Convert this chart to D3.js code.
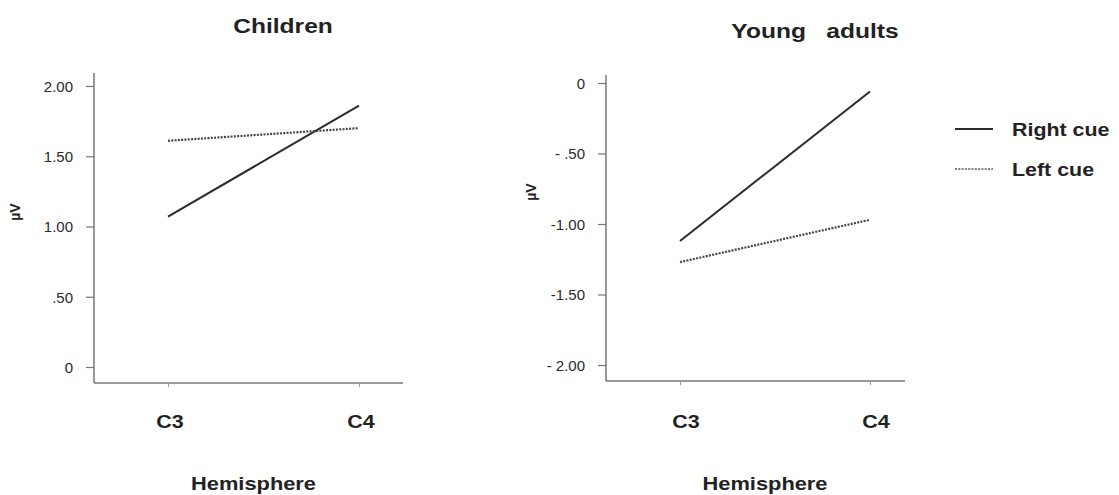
<!DOCTYPE html>
<html>
<head>
<meta charset="utf-8">
<script src="https://cdn.jsdelivr.net/npm/d3@7"></script>
<style>
  body { margin: 0; background: #fff; }
  svg { font-family: "Liberation Sans", Arial, sans-serif; }
</style>
</head>
<body>
<svg id="chart" width="1119" height="495"></svg>
<script>
const hemispheres = ["C3", "C4"];
const childrenRight = [1.07, 1.86];
const childrenLeft = [1.61, 1.70];
const adultsRight = [-1.12, -0.06];
const adultsLeft = [-1.27, -0.97];
const childrenTicks = [0, 0.5, 1, 1.5, 2];
const childrenTickLabels = ["0", ".50", "1.00", "1.50", "2.00"];
const adultsTicks = [0, -0.5, -1, -1.5, -2];
const adultsTickLabels = ["0", "- .50", "-1.00", "-1.50", "- 2.00"];
const seriesNames = ["Right cue", "Left cue"];

const svg = d3.select("#chart");

// text in the original looks a bit wider than Arial, so stretch it horizontally
function label(parent, x, y, txt, size, anchor, sx) {
    return parent.append("text")
        .attr("transform", `translate(${x},${y}) scale(${sx || 1.13},1)`)
        .attr("text-anchor", anchor || "middle")
        .attr("font-size", size).attr("font-weight", "bold").attr("fill", "#222")
        .attr("xml:space", "preserve")
        .text(txt);
}

function drawPanel(p) {
    const g = svg.append("g");

    const x = d3.scalePoint().domain(hemispheres).range([p.x0, p.x1]);
    const y = d3.scaleLinear().domain(p.domain).range([p.yBottom, p.yTop]);

    g.append("line")
        .attr("x1", p.axisX).attr("x2", p.axisX)
        .attr("y1", p.axisTop).attr("y2", p.axisY)
        .attr("stroke", "#777").attr("stroke-width", 1.5);
    g.append("line")
        .attr("x1", p.axisX).attr("x2", p.axisRight)
        .attr("y1", p.axisY).attr("y2", p.axisY)
        .attr("stroke", "#777").attr("stroke-width", 1.5);

    const yAxis = g.append("g")
        .attr("transform", `translate(${p.axisX},0)`)
        .call(d3.axisLeft(y)
            .tickValues(p.ticks)
            .tickFormat((d, i) => p.tickLabels[i])
            .tickSize(8).tickPadding(13));
    yAxis.select(".domain").remove();
    yAxis.selectAll(".tick line").attr("stroke", "#777").attr("stroke-width", 1.2);
    yAxis.selectAll(".tick text")
        .attr("font-size", 15).attr("fill", "#2a2a2a")
        .attr("font-family", "Liberation Sans, Arial, sans-serif")
        .attr("dy", "0.36em")
        .attr("xml:space", "preserve");

    const xAxis = g.append("g")
        .attr("transform", `translate(0,${p.axisY})`)
        .call(d3.axisBottom(x).tickSize(4).tickFormat(""));
    xAxis.select(".domain").remove();
    xAxis.selectAll(".tick line").attr("stroke", "#999");

    hemispheres.forEach(h => label(g, x(h) + p.catShift, 428, h, 19));

    const line = d3.line().x((d, i) => x(hemispheres[i])).y(d => y(d));

    g.append("path").datum(p.right)
        .attr("d", line).attr("fill", "none")
        .attr("stroke", "#2a2a2a").attr("stroke-width", 2);
    g.append("path").datum(p.left)
        .attr("d", line).attr("fill", "none")
        .attr("stroke", "#444").attr("stroke-width", 2.2)
        .attr("stroke-dasharray", "2,1.3");

    label(g, p.titleX, p.titleY, p.title, 21, "middle", 1.17);
    label(g, (p.x0 + p.x1) / 2 + p.hemiShift, 490, "Hemisphere", 19, "middle", 1.15);

    g.append("text")
        .attr("transform", `translate(${p.labelX},${p.labelY}) rotate(-90)`)
        .attr("text-anchor", "middle")
        .attr("font-size", 14).attr("font-weight", "bold").attr("fill", "#222")
        .text("µV");
}

drawPanel({
    title: "Children", titleX: 283, titleY: 33,
    x0: 168, x1: 359, axisX: 94, axisTop: 73, axisY: 383, axisRight: 403,
    domain: [0, 2], yBottom: 367, yTop: 86,
    ticks: childrenTicks, tickLabels: childrenTickLabels,
    right: childrenRight, left: childrenLeft,
    labelX: 20, labelY: 212, catShift: 2, hemiShift: -10
});

drawPanel({
    title: "Young   adults", titleX: 815, titleY: 38,
    x0: 680, x1: 870, axisX: 606, axisTop: 75, axisY: 381, axisRight: 905,
    domain: [-2, 0], yBottom: 365, yTop: 83,
    ticks: adultsTicks, tickLabels: adultsTickLabels,
    right: adultsRight, left: adultsLeft,
    labelX: 536, labelY: 192, catShift: 6, hemiShift: -10
});

// legend
const legend = svg.append("g");
seriesNames.forEach((name, i) => {
    const ly = 129 + i * 40;
    legend.append("line")
        .attr("x1", 955).attr("x2", 993).attr("y1", ly).attr("y2", ly)
        .attr("stroke", i === 0 ? "#2a2a2a" : "#555")
        .attr("stroke-width", i === 0 ? 2 : 1.6)
        .attr("stroke-dasharray", i === 0 ? null : "2,1.3");
    label(legend, 1012, ly + 7, name, 18, "start", 1.19);
});
</script>
</body>
</html>
